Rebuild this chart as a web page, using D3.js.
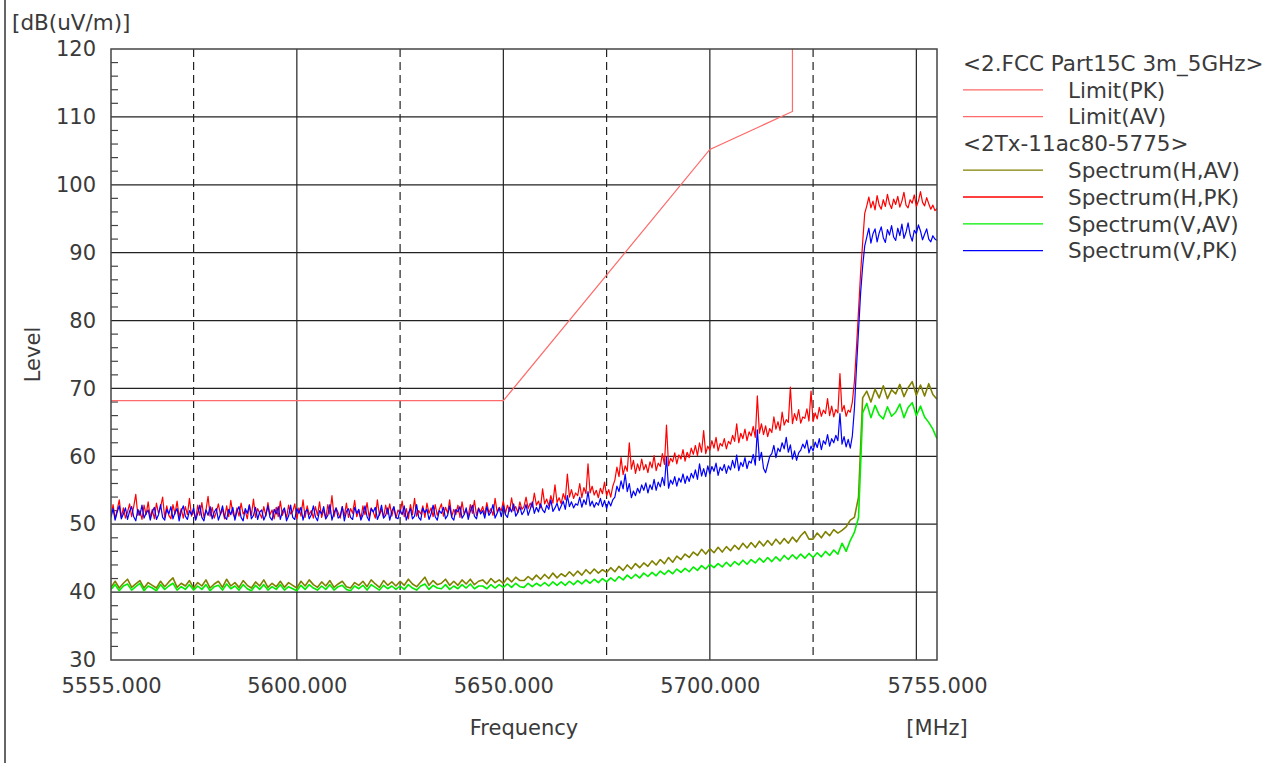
<!DOCTYPE html>
<html><head><meta charset="utf-8">
<script src="https://cdn.jsdelivr.net/npm/d3@7"></script>
<style>
html,body{margin:0;padding:0;background:#fff;}
svg text{font-family:"DejaVu Sans",sans-serif;fill:#3a3a3a;}
</style></head>
<body><svg id="c" width="1279" height="763"></svg>
<script>
// ---------- data ----------
const freqStart = 5555, freqEnd = 5755;
const pkStep = 0.5, avStep = 1;           // MHz between samples
const yTicks = [30,40,50,60,70,80,90,100,110,120];
const xTickLabels = [5555,5600,5650,5700,5755];
const majorX = [5600,5650,5700,5750];
const minorX = [5575,5625,5675,5725];

const limitFreq  = [5555, 5650, 5700, 5720, 5720];
const limitLevel = [68.2, 68.2, 105.2, 110.8, 122.2];

// Spectrum(H,PK), 0.5 MHz samples
const hPK = [
51.2,52.9,50.8,52.1,53.6,51.0,52.4,50.9,51.8,53.0,51.1,52.6,54.4,51.3,52.0,50.7,52.8,51.4,53.3,51.0,
52.2,50.8,53.1,51.6,52.5,54.0,51.0,52.7,51.3,50.8,52.9,51.5,53.4,51.1,52.3,50.9,52.6,51.4,53.8,51.2,
51.9,50.7,52.8,51.3,53.2,51.0,52.1,54.1,51.2,52.5,50.9,51.8,53.0,51.4,52.2,50.8,52.7,51.1,53.5,51.6,
50.9,52.4,51.2,53.1,51.5,52.0,50.8,52.9,51.3,53.7,51.0,52.3,51.6,50.9,52.6,51.2,53.2,51.4,52.1,50.8,
52.5,51.1,53.4,51.3,52.2,50.9,52.8,51.5,51.9,53.0,50.8,52.4,51.2,53.6,51.0,52.7,51.4,52.0,50.9,52.6,
51.3,53.3,51.0,52.1,50.8,52.9,51.5,54.2,51.1,52.4,51.7,50.9,52.6,51.2,53.1,51.0,52.3,51.6,53.5,51.1,
52.0,50.8,52.7,51.4,53.2,51.0,52.4,51.8,50.9,53.6,51.3,52.2,51.0,52.8,51.5,53.0,51.2,52.5,50.9,52.1,
51.6,53.4,51.1,52.3,50.8,52.9,51.4,53.8,51.2,52.0,51.5,52.7,51.0,53.1,51.6,52.4,51.1,52.9,51.3,52.2,
53.0,51.2,52.5,51.6,53.6,51.1,52.2,51.4,52.8,51.0,53.3,51.5,52.1,51.2,52.9,51.6,53.5,51.3,52.4,51.8,
52.6,51.4,53.2,51.7,52.3,51.3,53.8,51.8,52.5,52.0,53.4,51.6,52.8,51.9,53.9,52.0,52.6,51.7,53.3,52.2,
52.6,54.0,52.3,53.1,52.5,54.6,52.8,53.4,52.4,55.2,53.0,53.7,52.7,54.2,53.1,55.8,53.2,53.9,53.0,54.5,
53.6,57.4,54.0,55.1,53.8,54.6,54.2,56.0,53.9,55.4,54.5,58.9,54.6,55.6,54.3,55.0,53.9,55.3,54.5,56.2,
54.2,55.1,54.0,55.6,56.5,58.4,57.0,59.8,57.3,58.6,57.8,62.0,58.1,59.4,57.5,58.9,57.9,59.6,58.0,58.8,
57.6,59.2,58.3,60.1,57.9,59.0,58.5,60.4,58.8,64.6,58.6,59.7,59.2,60.5,58.9,60.2,59.6,61.0,59.3,60.6,
59.8,61.2,60.3,61.6,60.1,62.0,60.6,63.8,60.4,61.5,60.9,62.3,61.2,62.8,60.8,61.9,61.5,62.6,61.1,62.2,
61.8,63.1,62.2,64.8,62.0,63.4,62.6,64.0,62.3,63.6,63.0,64.4,62.8,68.9,63.4,64.8,63.2,64.5,62.9,64.1,
63.5,65.8,64.0,65.1,63.8,66.5,64.6,65.4,65.0,70.2,64.8,66.3,65.3,66.9,64.9,65.8,65.6,67.0,65.2,69.6,
65.1,66.4,65.5,67.2,65.9,66.8,66.3,68.5,66.0,67.4,65.8,66.9,66.4,72.2,66.6,67.5,65.9,66.8,66.5,68.0,
71.0,76.0,81.5,87.0,91.5,95.8,96.9,98.2,96.6,97.6,96.3,98.4,97.0,96.4,97.8,96.8,98.6,97.2,96.5,97.9,
97.1,98.3,96.7,97.6,98.9,97.0,96.6,97.8,97.3,98.5,96.8,97.6,99.0,97.4,96.9,98.1,97.2,96.4,97.0,96.2,
96.5];

// Spectrum(V,PK), 0.5 MHz samples
const vPK = [
51.0,52.3,50.6,51.8,52.7,50.8,51.5,52.4,50.7,51.9,52.6,51.1,50.5,52.2,51.3,52.8,50.9,51.6,52.1,50.6,
51.8,52.5,50.7,51.4,52.9,51.0,50.6,52.2,51.5,52.6,50.8,51.7,52.3,50.5,51.9,52.7,51.2,50.7,52.0,51.4,
52.4,50.6,51.6,52.8,51.0,50.5,52.1,51.3,52.6,50.8,51.8,52.3,50.6,51.5,52.7,51.1,50.7,52.2,51.4,52.5,
50.6,51.9,52.6,51.0,50.5,52.3,51.6,52.8,50.8,51.3,52.5,50.7,51.8,52.1,50.6,51.4,52.7,51.0,50.6,52.2,
51.5,52.6,50.7,51.9,52.4,50.5,51.2,52.8,51.0,50.7,52.3,51.6,52.5,50.6,51.8,52.2,50.8,51.4,52.7,51.1,
50.5,52.0,51.5,52.6,50.8,51.3,52.9,50.6,51.7,52.4,50.9,51.2,52.6,50.5,51.9,52.3,51.0,50.7,52.5,51.6,
52.2,50.6,51.4,52.7,51.1,50.5,52.3,51.8,52.5,50.7,51.5,52.8,50.9,51.3,52.4,50.6,51.9,52.6,51.0,50.8,
52.1,51.4,52.7,50.6,51.6,52.3,50.8,51.2,52.9,51.0,50.6,52.4,51.7,52.2,50.7,51.5,52.8,51.1,50.6,52.0,
51.6,52.5,50.8,51.3,52.7,51.0,50.6,52.2,51.8,52.6,50.9,51.4,52.4,50.7,51.9,52.8,51.2,50.8,52.3,51.5,
52.0,50.9,52.6,51.3,51.8,52.9,50.9,51.6,52.4,51.1,52.7,51.4,51.0,52.5,51.8,53.0,51.2,51.7,52.6,51.4,
51.9,52.9,51.3,52.2,53.3,51.6,52.5,51.8,53.0,52.1,51.7,52.8,52.2,53.6,51.9,52.4,53.1,52.0,52.7,53.4,
52.2,54.2,52.6,53.3,52.4,53.0,52.8,54.0,52.5,53.6,52.9,54.8,52.7,53.4,52.5,53.2,52.8,53.8,52.6,53.5,
52.3,53.4,52.7,53.6,54.0,55.6,54.8,56.4,55.2,57.4,54.8,56.0,53.9,54.9,54.2,55.3,54.6,55.8,55.0,56.1,
54.6,55.8,55.1,56.6,55.0,56.2,55.5,56.9,55.7,59.9,55.3,56.5,55.9,57.0,55.6,56.8,56.2,57.4,56.0,57.1,
56.3,57.5,56.8,58.0,56.6,58.9,57.1,58.2,57.0,58.6,57.4,58.5,57.8,59.0,57.2,58.4,57.9,58.8,57.5,58.6,
58.0,59.4,58.3,60.2,57.9,59.1,58.5,59.8,58.2,59.3,59.0,60.3,58.7,63.9,59.4,60.6,58.2,57.6,58.8,60.0,
60.4,61.6,59.8,61.2,60.7,62.0,61.1,62.8,60.6,61.7,59.6,60.8,59.4,60.5,60.9,61.8,61.2,62.4,60.5,61.5,
60.8,62.1,61.3,62.6,61.0,62.3,61.8,63.2,61.5,62.6,62.0,63.1,62.3,66.3,61.8,62.9,61.4,62.5,61.2,63.0,
67.0,73.0,78.5,84.0,88.0,91.0,92.3,93.6,91.4,92.8,93.5,91.6,92.9,93.8,92.2,91.5,93.4,92.6,94.0,92.3,
91.8,93.6,92.5,94.2,92.1,93.0,94.4,92.6,91.7,93.3,92.8,94.1,93.2,91.9,92.7,93.5,92.0,91.6,92.5,92.0,
91.8];

// Spectrum(H,AV), 1 MHz samples
const hAV = [
40.7,41.6,40.6,41.3,41.9,40.7,41.2,41.7,40.6,41.4,
41.0,40.6,41.6,40.8,41.5,42.1,40.7,41.3,40.9,41.7,
40.6,41.4,40.9,41.8,40.6,41.2,41.6,40.7,41.9,40.9,
41.4,40.7,41.7,41.0,40.6,41.5,40.9,41.8,40.7,41.3,
40.8,41.6,40.7,41.4,41.0,40.6,41.6,40.9,41.8,41.1,
40.7,41.5,40.9,41.7,40.7,41.2,41.6,40.8,40.6,41.4,
41.0,41.6,40.8,41.8,41.2,40.7,41.7,41.0,41.5,40.9,
41.6,41.0,41.9,41.2,40.8,41.5,42.2,41.0,41.7,41.1,
41.3,41.9,41.0,41.6,41.0,41.8,41.2,41.9,41.1,41.6,
41.8,41.2,42.0,41.4,41.8,41.3,42.1,41.5,42.2,41.7,
41.7,42.3,41.8,42.5,41.9,42.6,42.0,42.8,42.1,42.7,
42.3,43.0,42.4,43.1,42.5,43.3,42.7,43.4,42.8,43.3,
42.9,43.6,43.0,43.8,43.2,44.0,43.4,44.2,43.6,44.3,
43.8,44.6,44.0,44.8,44.2,45.1,44.4,45.3,44.8,45.6,
45.1,45.9,45.4,46.3,45.6,46.4,45.8,46.6,45.9,46.7,
46.1,46.9,46.3,47.2,46.5,47.3,46.6,47.5,46.8,47.6,
46.9,47.8,47.1,47.9,47.2,48.1,47.4,48.3,48.9,47.8,
47.8,48.7,48.0,48.9,48.3,49.2,48.7,49.1,49.6,50.6,
51.0,54.0,68.6,69.6,68.0,69.9,68.6,70.4,68.5,69.8,
69.2,70.6,68.8,70.1,71.0,69.0,70.5,68.9,70.7,69.1,
68.4];

// Spectrum(V,AV), 1 MHz samples
const vAV = [
40.4,41.1,40.2,40.9,41.2,40.3,40.8,41.3,40.2,40.9,
40.6,40.2,41.1,40.4,40.9,41.3,40.3,40.8,40.4,41.1,
40.3,40.9,40.4,41.1,40.2,40.8,41.0,40.3,41.2,40.5,
40.9,40.3,41.1,40.5,40.2,41.0,40.4,41.1,40.3,40.8,
40.4,41.1,40.3,40.8,40.5,40.2,41.0,40.4,41.1,40.6,
40.3,40.9,40.4,41.1,40.3,40.8,41.0,40.4,40.2,40.9,
40.5,41.0,40.3,41.1,40.7,40.3,41.0,40.5,40.9,40.4,
40.9,40.4,41.1,40.6,40.3,40.9,41.2,40.4,41.0,40.6,
40.5,41.1,40.4,40.9,40.5,41.1,40.6,41.2,40.5,40.9,
40.9,40.5,41.1,40.6,41.1,40.7,41.2,40.7,41.3,40.8,
40.7,41.3,40.8,41.3,40.9,41.4,40.9,41.5,41.0,41.5,
41.0,41.6,41.1,41.7,41.2,41.8,41.3,41.9,41.4,42.0,
41.5,42.1,41.6,42.3,41.8,42.5,42.0,42.6,42.1,42.8,
42.3,42.9,42.4,43.1,42.6,43.2,42.7,43.4,42.9,43.5,
43.0,43.7,43.2,43.9,43.4,44.1,43.6,44.2,43.7,44.4,
43.8,44.5,44.0,44.7,44.1,44.8,44.3,45.0,44.4,45.1,
44.5,45.2,44.6,45.4,44.8,45.5,44.9,45.6,45.0,45.7,
45.1,45.8,45.2,46.0,45.4,46.2,45.6,47.2,46.0,47.6,
48.8,51.0,66.4,67.8,65.7,67.5,66.1,65.5,67.3,65.9,
66.5,67.7,65.7,67.2,67.9,66.0,67.4,65.8,65.0,64.0,
62.6];

const seriesNames  = ["Spectrum(H,AV)","Spectrum(H,PK)","Spectrum(V,AV)","Spectrum(V,PK)"];
const seriesValues = [hAV, hPK, vAV, vPK];
const seriesSteps  = [avStep, pkStep, avStep, pkStep];
const seriesColors = ["#808000","#ff0000","#00ee00","#0000ff"];

// ---------- layout ----------
const svg = d3.select("#c");
const L = 111, R = 937, T = 49, B = 660;
const x = d3.scaleLinear().domain([freqStart, freqEnd]).range([L, R]);
const y = d3.scaleLinear().domain([30, 120]).range([B, T]);

svg.append("line").attr("x1",5).attr("x2",5).attr("y1",0).attr("y2",763)
  .attr("stroke","#333").attr("stroke-width",1.5);

svg.append("defs").append("clipPath").attr("id","clip")
  .append("rect").attr("x",L).attr("y",T).attr("width",R-L).attr("height",B-T);

// grid
const g = svg.append("g");
g.selectAll(".hg").data(yTicks.slice(1,-1)).join("line")
  .attr("x1",L).attr("x2",R).attr("y1",d=>y(d)).attr("y2",d=>y(d))
  .attr("stroke","#222").attr("stroke-width",1.2);
g.selectAll(".vg").data(majorX).join("line")
  .attr("x1",d=>x(d)).attr("x2",d=>x(d)).attr("y1",T).attr("y2",B)
  .attr("stroke","#222").attr("stroke-width",1.2);
g.selectAll(".vd").data(minorX).join("line")
  .attr("x1",d=>x(d)).attr("x2",d=>x(d)).attr("y1",T).attr("y2",B)
  .attr("stroke","#222").attr("stroke-width",1.2).attr("stroke-dasharray","8,5");
const minorY = d3.range(32, 120, 2).filter(v => v % 10 !== 0);
g.selectAll(".my").data(minorY).join("line")
  .attr("x1",L).attr("x2",L+7).attr("y1",d=>y(d)).attr("y2",d=>y(d))
  .attr("stroke","#444").attr("stroke-width",1.2);

// traces
const plot = svg.append("g").attr("clip-path","url(#clip)");
plot.append("path").datum(limitLevel)
  .attr("d", d3.line().x((d,i)=>x(limitFreq[i])).y(d=>y(d)))
  .attr("fill","none").attr("stroke","#ff6a6a").attr("stroke-width",1.2);
seriesValues.forEach((vals,k)=>{
  const st = seriesSteps[k];
  const ln = d3.line().x((d,i)=>x(freqStart + i*st)).y(d=>y(d));
  plot.append("path").datum(vals).attr("d",ln)
    .attr("fill","none").attr("stroke",seriesColors[k])
    .attr("stroke-width", st < 1 ? 1.2 : 1.6)
    .attr("stroke-linejoin","round");
});

// border
svg.append("rect").attr("x",L).attr("y",T).attr("width",R-L).attr("height",B-T)
  .attr("fill","none").attr("stroke","#444").attr("stroke-width",1.5);

// axes labels
const ya = svg.append("g").attr("transform",`translate(${L},0)`)
  .call(d3.axisLeft(y).tickValues(yTicks).tickSize(0).tickPadding(15));
ya.select(".domain").remove();
ya.selectAll("text").attr("font-size",21).attr("fill","#3a3a3a")
  .attr("font-family","DejaVu Sans, sans-serif");

const xa = svg.append("g").attr("transform",`translate(0,${B})`)
  .call(d3.axisBottom(x).tickValues(xTickLabels).tickSize(0).tickPadding(18)
        .tickFormat(d3.format(".3f")));
xa.select(".domain").remove();
xa.selectAll("text").attr("font-size",21).attr("fill","#3a3a3a")
  .attr("font-family","DejaVu Sans, sans-serif");

svg.append("text").attr("x",12).attr("y",30).attr("font-size",21.5).text("[dB(uV/m)]");
svg.append("text").attr("x",(L+R)/2).attr("y",735).attr("text-anchor","middle")
  .attr("font-size",21).text("Frequency");
svg.append("text").attr("x",R).attr("y",735).attr("text-anchor","middle")
  .attr("font-size",21).text("[MHz]");
svg.append("text").attr("transform",`translate(40,${(T+B)/2}) rotate(-90)`)
  .attr("text-anchor","middle").attr("font-size",21).text("Level");

// legend
const legendRows = [
  {t:"<2.FCC Part15C 3m_5GHz>", c:null},
  {t:"Limit(PK)", c:"#ff6a6a"},
  {t:"Limit(AV)", c:"#ff6a6a"},
  {t:"<2Tx-11ac80-5775>", c:null},
  ...seriesNames.map((n,k)=>({t:n, c:seriesColors[k]}))
];
const lg = svg.append("g");
legendRows.forEach((r,i)=>{
  const yy = 63 + i*26.8;
  if (r.c) {
    lg.append("line").attr("x1",963).attr("x2",1043).attr("y1",yy).attr("y2",yy)
      .attr("stroke",r.c).attr("stroke-width",1.3);
    lg.append("text").attr("x",1068).attr("y",yy).attr("dy","0.36em")
      .attr("font-size",21.5).text(r.t);
  } else {
    lg.append("text").attr("x",963).attr("y",yy).attr("dy","0.36em")
      .attr("font-size",21.5).text(r.t);
  }
});
</script></body></html>
